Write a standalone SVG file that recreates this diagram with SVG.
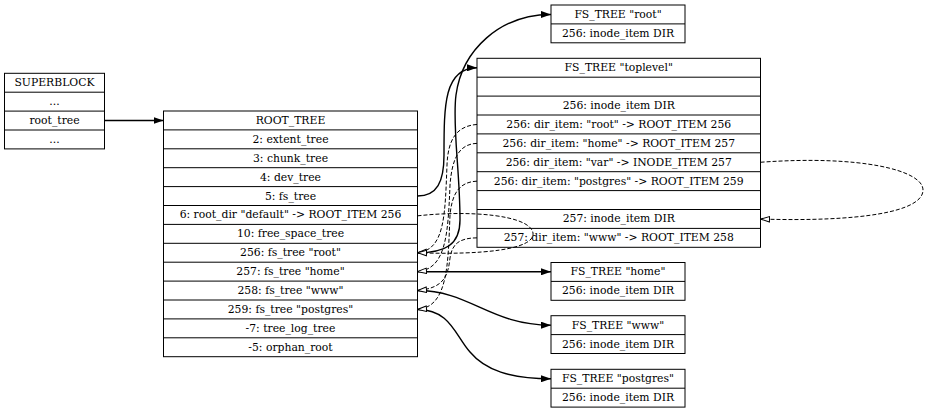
<svg xmlns="http://www.w3.org/2000/svg" width="929" height="408" viewBox="0 0 929 408">
<style>
  .box { fill: none; stroke: #000; stroke-width: 1; }
  .sep { stroke: #000; stroke-width: 1; }
  text { font-family: "DejaVu Serif", serif; font-size: 10.8px; fill: #000; text-anchor: middle; }
  .solid { fill: none; stroke: #000; stroke-width: 1.4; marker-end: url(#arr); }
  .dash { fill: none; stroke: #000; stroke-width: 1; stroke-dasharray: 4 2; marker-end: url(#open); }
</style>
<defs>
  <marker id="arr" viewBox="0 0 10 7" refX="10" refY="3.5" markerWidth="10" markerHeight="7" markerUnits="userSpaceOnUse" orient="auto">
    <path d="M0,0 L10,3.5 L0,7 Z" fill="#000"/>
  </marker>
  <marker id="open" viewBox="0 0 10 7" refX="9.5" refY="3.5" markerWidth="10" markerHeight="7" markerUnits="userSpaceOnUse" orient="auto">
    <path d="M0.5,0.8 L9.5,3.5 L0.5,6.2 Z" fill="#fff" stroke="#000" stroke-width="1"/>
  </marker>
</defs>
<rect width="929" height="408" fill="#fff"/>

<g id="superblock">
  <rect class="box" x="4.5" y="73.3" width="100" height="75.6"/>
  <line class="sep" x1="4.5" y1="92.2" x2="104.5" y2="92.2"/>
  <line class="sep" x1="4.5" y1="111.1" x2="104.5" y2="111.1"/>
  <line class="sep" x1="4.5" y1="130" x2="104.5" y2="130"/>
  <text x="54.5" y="86.25">SUPERBLOCK</text>
  <text x="54.5" y="105.15">...</text>
  <text x="54.5" y="124.05">root_tree</text>
  <text x="54.5" y="142.95">...</text>
</g>

<g id="root_tree">
  <rect class="box" x="163.5" y="111" width="254" height="245.7"/>
  <line class="sep" x1="163.5" y1="129.9" x2="417.5" y2="129.9"/>
  <line class="sep" x1="163.5" y1="148.8" x2="417.5" y2="148.8"/>
  <line class="sep" x1="163.5" y1="167.7" x2="417.5" y2="167.7"/>
  <line class="sep" x1="163.5" y1="186.6" x2="417.5" y2="186.6"/>
  <line class="sep" x1="163.5" y1="205.5" x2="417.5" y2="205.5"/>
  <line class="sep" x1="163.5" y1="224.4" x2="417.5" y2="224.4"/>
  <line class="sep" x1="163.5" y1="243.3" x2="417.5" y2="243.3"/>
  <line class="sep" x1="163.5" y1="262.2" x2="417.5" y2="262.2"/>
  <line class="sep" x1="163.5" y1="281.1" x2="417.5" y2="281.1"/>
  <line class="sep" x1="163.5" y1="300" x2="417.5" y2="300"/>
  <line class="sep" x1="163.5" y1="318.9" x2="417.5" y2="318.9"/>
  <line class="sep" x1="163.5" y1="337.8" x2="417.5" y2="337.8"/>
  <text x="290.5" y="123.95">ROOT_TREE</text>
  <text x="290.5" y="142.85">2: extent_tree</text>
  <text x="290.5" y="161.75">3: chunk_tree</text>
  <text x="290.5" y="180.65">4: dev_tree</text>
  <text x="290.5" y="199.55">5: fs_tree</text>
  <text x="290.5" y="218.45">6: root_dir "default" -&gt; ROOT_ITEM 256</text>
  <text x="290.5" y="237.35">10: free_space_tree</text>
  <text x="290.5" y="256.25">256: fs_tree "root"</text>
  <text x="290.5" y="275.15">257: fs_tree "home"</text>
  <text x="290.5" y="294.05">258: fs_tree "www"</text>
  <text x="290.5" y="312.95">259: fs_tree "postgres"</text>
  <text x="290.5" y="331.85">-7: tree_log_tree</text>
  <text x="290.5" y="350.75">-5: orphan_root</text>
</g>

<g id="fs_toplevel">
  <rect class="box" x="477" y="58.3" width="283.5" height="189"/>
  <line class="sep" x1="477" y1="77.2" x2="760.5" y2="77.2"/>
  <line class="sep" x1="477" y1="96.1" x2="760.5" y2="96.1"/>
  <line class="sep" x1="477" y1="115" x2="760.5" y2="115"/>
  <line class="sep" x1="477" y1="133.9" x2="760.5" y2="133.9"/>
  <line class="sep" x1="477" y1="152.8" x2="760.5" y2="152.8"/>
  <line class="sep" x1="477" y1="171.7" x2="760.5" y2="171.7"/>
  <line class="sep" x1="477" y1="190.6" x2="760.5" y2="190.6"/>
  <line class="sep" x1="477" y1="209.5" x2="760.5" y2="209.5"/>
  <line class="sep" x1="477" y1="228.4" x2="760.5" y2="228.4"/>
  <text x="618.75" y="71.25">FS_TREE "toplevel"</text>
  <text x="618.75" y="109.05">256: inode_item DIR</text>
  <text x="618.75" y="127.95">256: dir_item: "root" -&gt; ROOT_ITEM 256</text>
  <text x="618.75" y="146.85">256: dir_item: "home" -&gt; ROOT_ITEM 257</text>
  <text x="618.75" y="165.75">256: dir_item: "var" -&gt; INODE_ITEM 257</text>
  <text x="618.75" y="184.65">256: dir_item: "postgres" -&gt; ROOT_ITEM 259</text>
  <text x="618.75" y="222.45">257: inode_item DIR</text>
  <text x="618.75" y="241.35">257: dir_item: "www" -&gt; ROOT_ITEM 258</text>
</g>

<g id="fs_root">
  <rect class="box" x="551" y="5" width="134" height="37.8"/>
  <line class="sep" x1="551" y1="23.9" x2="685" y2="23.9"/>
  <text x="618" y="17.95">FS_TREE "root"</text>
  <text x="618" y="36.85">256: inode_item DIR</text>
</g>

<g id="fs_home">
  <rect class="box" x="551" y="262.5" width="134" height="37.8"/>
  <line class="sep" x1="551" y1="281.4" x2="685" y2="281.4"/>
  <text x="618" y="275.45">FS_TREE "home"</text>
  <text x="618" y="294.35">256: inode_item DIR</text>
</g>

<g id="fs_www">
  <rect class="box" x="551" y="315.7" width="134" height="37.8"/>
  <line class="sep" x1="551" y1="334.6" x2="685" y2="334.6"/>
  <text x="618" y="328.65">FS_TREE "www"</text>
  <text x="618" y="347.55">256: inode_item DIR</text>
</g>

<g id="fs_postgres">
  <rect class="box" x="551" y="369.3" width="134" height="37.8"/>
  <line class="sep" x1="551" y1="388.2" x2="685" y2="388.2"/>
  <text x="618" y="382.25">FS_TREE "postgres"</text>
  <text x="618" y="401.15">256: inode_item DIR</text>
</g>

<g id="connectors">
  <path class="solid" d="M104.5,120.5 L163.5,120.5"/>
  <path class="solid" d="M417.5,196 C437,196 444,182 444,155 C444,105 444,68 477,67.75"/>
  <path class="solid" d="M417.5,252.75 C445,252.75 460,245 460,220 C460,170 452,125 456,95 C462,50 500,14.45 551,14.45"/>
  <path class="solid" d="M417.5,271.8 L551,271.8"/>
  <path class="solid" d="M417.5,290.55 C470,290.55 490,325.15 551,325.15"/>
  <path class="solid" d="M417.5,309.45 C450,309.45 455,335 470,352 C485,370 510,378.75 551,378.75"/>

  <path class="dash" d="M477,124.45 C456,126 448,140 447,165 C445,215 445,250 417.5,252.75"/>
  <path class="dash" d="M477,143.35 C458,144 452,160 450,185 C448,235 446,269 417.5,271.65"/>
  <path class="dash" d="M477,181.15 C458,182 452,195 450,215 C448,265 448,307 417.5,309.45"/>
  <path class="dash" d="M477,237.85 C458,238 452,245 450,258 C448,275 445,288 417.5,290.55"/>
  <path class="dash" d="M417.5,215.85 C470,210 530,215 533,233 C535,250 480,255 417.5,252.75"/>
  <path class="dash" d="M760.5,162.25 C860,155 923,170 923,190 C923,212 860,222 760.5,219.05"/>
</g>
</svg>
